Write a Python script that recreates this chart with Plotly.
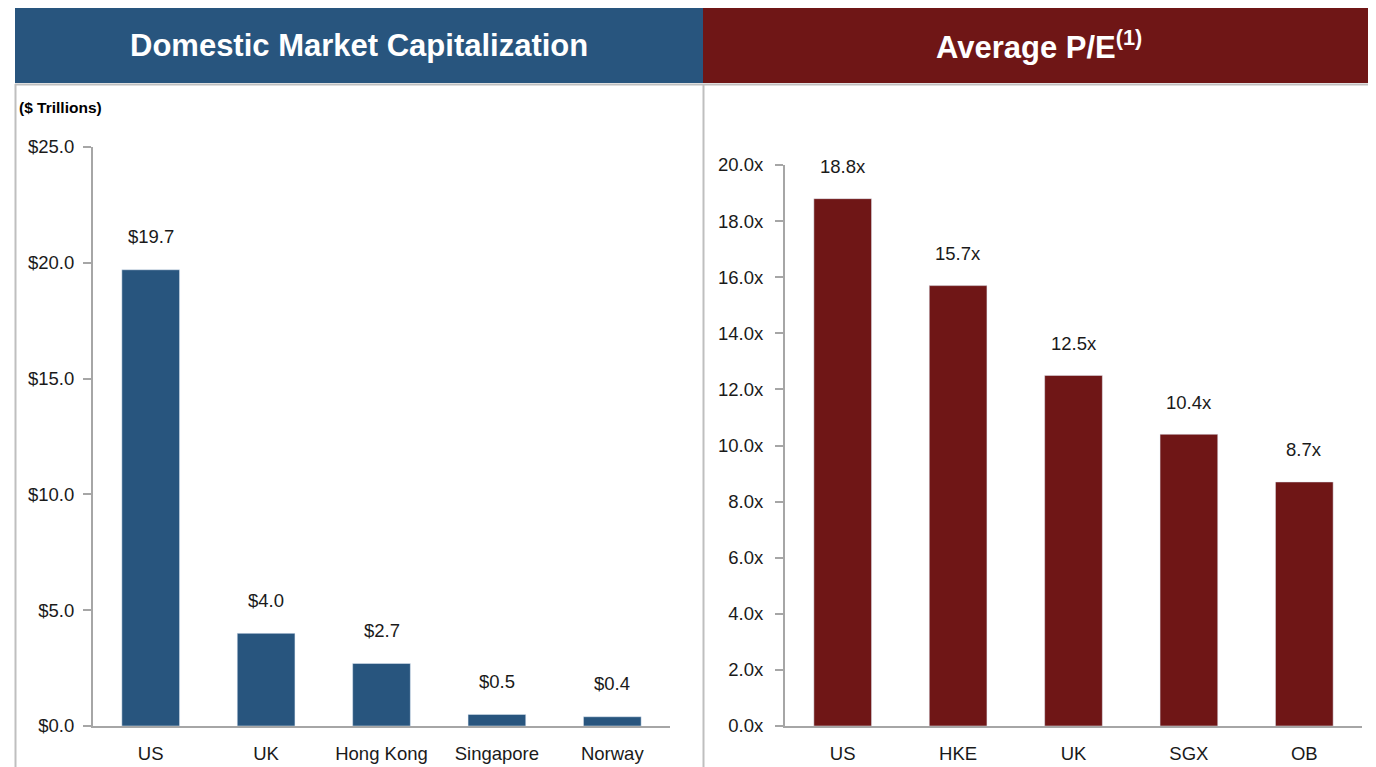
import plotly.graph_objects as go

# page body has an 8px default margin; figure is sized to fill the rest
OFF = 8
W, H = 1376 - OFF, 767 - OFF

# ---- data ----
cap_categories = ["US", "UK", "Hong Kong", "Singapore", "Norway"]
cap_values = [19.7, 4.0, 2.7, 0.5, 0.4]
cap_labels = ["$19.7", "$4.0", "$2.7", "$0.5", "$0.4"]
cap_ticks = [0, 5, 10, 15, 20, 25]
cap_ticktext = ["$0.0", "$5.0", "$10.0", "$15.0", "$20.0", "$25.0"]

pe_categories = ["US", "HKE", "UK", "SGX", "OB"]
pe_values = [18.8, 15.7, 12.5, 10.4, 8.7]
pe_labels = ["18.8x", "15.7x", "12.5x", "10.4x", "8.7x"]
pe_ticks = [0, 2, 4, 6, 8, 10, 12, 14, 16, 18, 20]
pe_ticktext = ["0.0x", "2.0x", "4.0x", "6.0x", "8.0x", "10.0x", "12.0x", "14.0x", "16.0x", "18.0x", "20.0x"]

BLUE = "#28557E"
RED = "#6F1616"
GRID = "#A6A6A6"
BORDER = "#BFBFBF"
FONT = "Liberation Sans Narrow, Arial Narrow, Liberation Sans, Arial, sans-serif"
TXT = "#1a1a1a"

def px(x):
    return (x - OFF) / W

def py(y):
    return 1 - (y - OFF) / H

fig = go.Figure()
fig.add_trace(go.Bar(x=cap_categories, y=cap_values, marker_color=BLUE,
                     xaxis="x", yaxis="y", hoverinfo="skip"))
fig.add_trace(go.Bar(x=pe_categories, y=pe_values, marker_color=RED,
                     xaxis="x2", yaxis="y2", hoverinfo="skip"))

LBL = 18.5
ann = []
for c, v, t in zip(cap_categories, cap_values, cap_labels):
    ann.append(dict(x=c, y=v, xref="x", yref="y", text=t, showarrow=False,
                    xanchor="center", yanchor="middle",
                    yshift=33, font=dict(family=FONT, size=LBL, color=TXT)))
for c, v, t in zip(pe_categories, pe_values, pe_labels):
    ann.append(dict(x=c, y=v, xref="x2", yref="y2", text=t, showarrow=False,
                    xanchor="center", yanchor="middle",
                    yshift=32, font=dict(family=FONT, size=LBL, color=TXT)))

# headers
ann.append(dict(x=px((15 + 703) / 2), y=py(45), xref="paper", yref="paper",
                xanchor="center", yanchor="middle",
                text="<b>Domestic Market Capitalization</b>", showarrow=False,
                font=dict(family=FONT, size=31, color="white")))
ann.append(dict(x=px((703 + 1375) / 2), y=py(45), xref="paper", yref="paper",
                xanchor="center", yanchor="middle",
                text="<b>Average P/E<sup>(1)</sup></b>", showarrow=False,
                font=dict(family=FONT, size=31, color="white")))
ann.append(dict(x=px(17), y=py(107), xref="paper", yref="paper",
                xanchor="left", yanchor="middle",
                text="<b>($ Trillions)</b>", showarrow=False,
                font=dict(family=FONT, size=15.5, color="black")))

shapes = [
    dict(type="rect", xref="paper", yref="paper", x0=px(15), x1=px(703),
         y0=py(83), y1=py(5), fillcolor=BLUE, line_width=0, layer="below"),
    dict(type="rect", xref="paper", yref="paper", x0=px(703), x1=px(1376),
         y0=py(83), y1=py(5), fillcolor=RED, line_width=0, layer="below"),
    dict(type="line", xref="paper", yref="paper", x0=px(15), x1=px(1375),
         y0=py(84.5), y1=py(84.5), line=dict(color=BORDER, width=2)),
    dict(type="line", xref="paper", yref="paper", x0=px(15.5), x1=px(15.5),
         y0=py(84), y1=py(767), line=dict(color=BORDER, width=2)),
    dict(type="line", xref="paper", yref="paper", x0=px(703.5), x1=px(703.5),
         y0=py(84), y1=py(767), line=dict(color=BORDER, width=2)),
    dict(type="line", xref="paper", yref="paper", x0=px(1374), x1=px(1374),
         y0=py(84), y1=py(767), line=dict(color=BORDER, width=2)),
]

axis_font = dict(family=FONT, size=LBL, color=TXT)

fig.update_layout(
    width=W, height=H,
    margin=dict(l=0, r=0, t=0, b=0, autoexpand=False),
    paper_bgcolor="white", plot_bgcolor="white",
    showlegend=False, bargap=0.5,
    annotations=ann, shapes=shapes,
    xaxis=dict(domain=[px(93), px(670)], anchor="y", showline=True,
               linecolor=GRID, linewidth=2, ticks="outside", ticklen=10,
               tickcolor="rgba(0,0,0,0)", tickfont=axis_font, showgrid=False,
               automargin=False),
    yaxis=dict(domain=[py(726), py(147)], anchor="x", range=[0, 25],
               tickvals=cap_ticks, ticktext=cap_ticktext, showline=True,
               linecolor=GRID, linewidth=2, ticks="outside", ticklen=8,
               tickcolor=GRID, tickwidth=2, tickfont=axis_font, showgrid=False,
               zeroline=False, ticklabelstandoff=5, automargin=False),
    xaxis2=dict(domain=[px(785), px(1362)], anchor="y2", showline=True,
                linecolor=GRID, linewidth=2, ticks="outside", ticklen=10,
                tickcolor="rgba(0,0,0,0)", tickfont=axis_font, showgrid=False,
                automargin=False),
    yaxis2=dict(domain=[py(726), py(165)], anchor="x2", range=[0, 20],
                tickvals=pe_ticks, ticktext=pe_ticktext, showline=True,
                linecolor=GRID, linewidth=2, ticks="outside", ticklen=8,
                tickcolor=GRID, tickwidth=2, tickfont=axis_font, showgrid=False,
                zeroline=False, ticklabelstandoff=8, automargin=False),
)

fig.write_html("out.html")
